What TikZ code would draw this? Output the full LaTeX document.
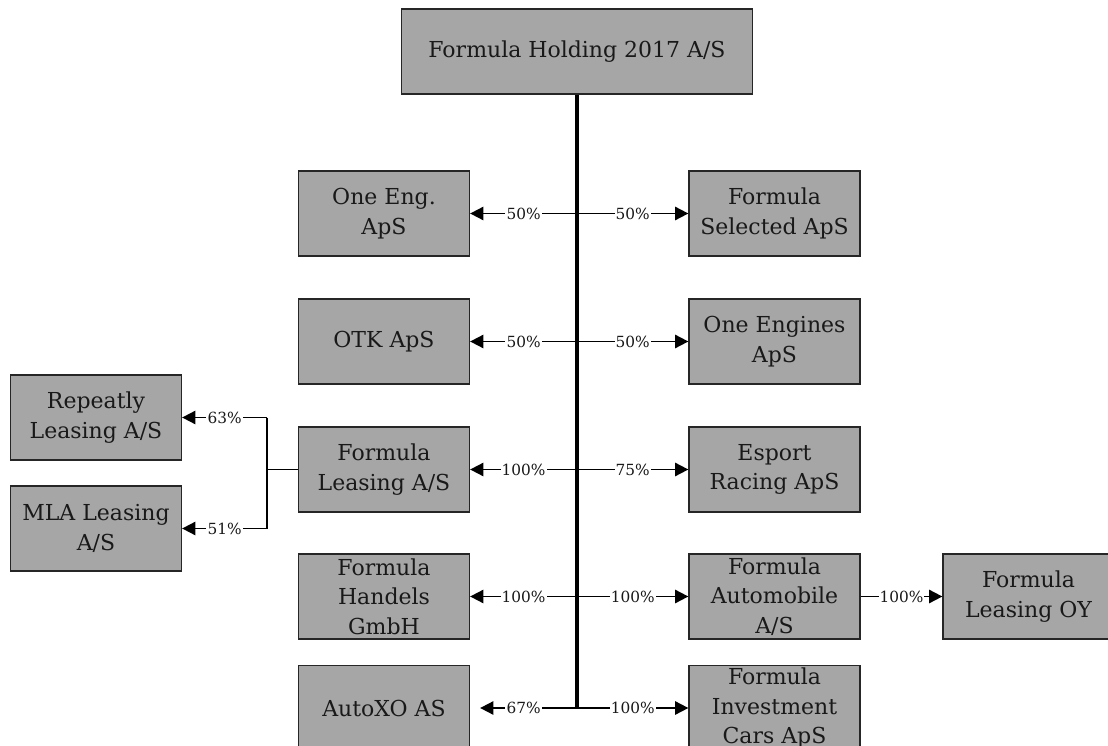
\documentclass[tikz,border=0pt]{standalone}
\usepackage{fontspec}
\setmainfont{DejaVu Serif}
\usetikzlibrary{arrows.meta}
\definecolor{boxgray}{RGB}{166,166,166}
\begin{document}
\begin{tikzpicture}[x=0.75pt,y=-0.75pt,
  box/.style={draw=black!85,line width=1.2pt,fill=boxgray,minimum width=128pt,minimum height=64pt,
    align=center,inner sep=0pt,font=\fontsize{16.5}{22}\selectfont,text=black!90},
  arr/.style={line width=1.4pt,-{Triangle[length=10pt,width=10pt]}},
  link/.style={line width=1.4pt},
  trunk/.style={line width=2.4pt},
  lbl/.style={fill=white,inner sep=0.8pt,font=\fontsize{11.5}{12}\selectfont,text=black!90}]
\useasboundingbox (0,0) rectangle (1108,746);
% boxes
\node[box,minimum width=263pt,minimum height=63.5pt] (top) at (577,51.5) {Formula Holding 2017 A/S};
\node[box] (oneeng) at (384,213.5) {One Eng.\\ApS};
\node[box] (fsel) at (774.5,213.5) {Formula\\Selected ApS};
\node[box] (otk) at (384,341.5) {OTK ApS};
\node[box] (oneng) at (774.5,341.5) {One Engines\\ApS};
\node[box] (fleas) at (384,469.5) {Formula\\Leasing A/S};
\node[box] (esport) at (774.5,469.5) {Esport\\Racing ApS};
\node[box] (handels) at (384,596.5) {Formula\\Handels\\GmbH};
\node[box] (automob) at (774.5,596.5) {Formula\\Automobile\\A/S};
\node[box] (leasoy) at (1028.5,596.5) {Formula\\Leasing OY};
\node[box] (autoxo) at (384,708) {AutoXO AS};
\node[box] (invest) at (774.5,708) {Formula\\Investment\\Cars ApS};
\node[box] (repeat) at (96,417.5) {Repeatly\\Leasing A/S};
\node[box] (mla) at (96,528.5) {MLA Leasing\\A/S};
% trunk
\draw[trunk] (top.south) -- (top.south |- autoxo.east);
% branches
\draw[arr] (top.south |- oneeng.east) -- node[lbl]{50\%} (oneeng.east);
\draw[arr] (top.south |- fsel.west) -- node[lbl]{50\%} (fsel.west);
\draw[arr] (top.south |- otk.east) -- node[lbl]{50\%} (otk.east);
\draw[arr] (top.south |- oneng.west) -- node[lbl]{50\%} (oneng.west);
\draw[arr] (top.south |- fleas.east) -- node[lbl]{100\%} (fleas.east);
\draw[arr] (top.south |- esport.west) -- node[lbl]{75\%} (esport.west);
\draw[arr] (top.south |- handels.east) -- node[lbl]{100\%} (handels.east);
\draw[arr] (top.south |- automob.west) -- node[lbl]{100\%} (automob.west);
\draw[arr,shorten >=7.5pt] (top.south |- autoxo.east) -- node[lbl]{67\%} (autoxo.east);
\draw[arr] (top.south |- invest.west) -- node[lbl]{100\%} (invest.west);
\draw[arr] (automob.east) -- node[lbl]{100\%} (leasoy.west);
% left bracket
\coordinate (cb) at (267,469.5);
\draw[link] (fleas.west) -- (cb |- fleas.west);
\draw[link] (cb |- repeat.east) -- (cb |- mla.east);
\draw[arr] (cb |- repeat.east) -- node[lbl]{63\%} (repeat.east);
\draw[arr] (cb |- mla.east) -- node[lbl]{51\%} (mla.east);
\end{tikzpicture}
\end{document}
